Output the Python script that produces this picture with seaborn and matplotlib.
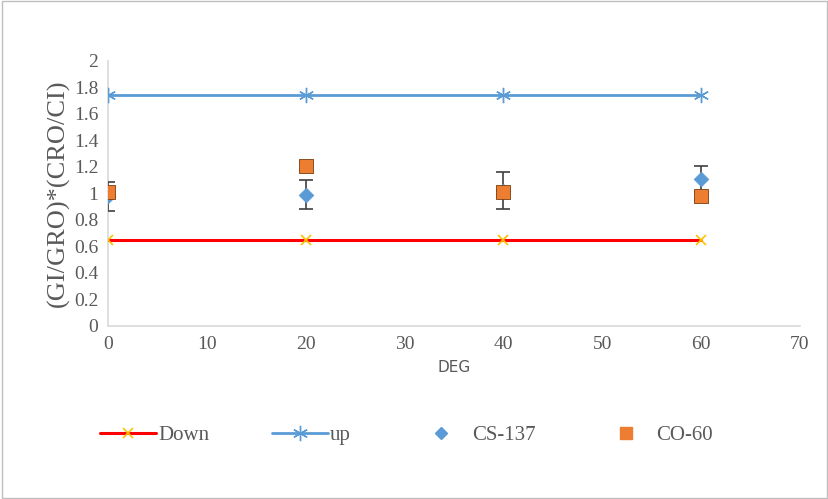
import matplotlib
matplotlib.use("Agg")
import matplotlib.pyplot as plt
from matplotlib.lines import Line2D
from matplotlib.patches import Rectangle
import seaborn as sns
import pandas as pd

# Angle (degrees) and measured ratios
deg = [0, 20, 40, 60]
down = [0.65, 0.65, 0.65, 0.65]
up = [1.74, 1.74, 1.74, 1.74]
cs137 = [0.98, 0.99, 1.02, 1.11]
cs137_err = [0.11, 0.11, 0.14, 0.10]
co60 = [1.01, 1.21, 1.01, 0.98]
co60_err = [0.02, 0.03, 0.02, 0.03]

xticks = [0, 10, 20, 30, 40, 50, 60, 70]
yticks = [0, 0.2, 0.4, 0.6, 0.8, 1, 1.2, 1.4, 1.6, 1.8, 2]
ytick_labels = ["0", "0.2", "0.4", "0.6", "0.8", "1", "1.2", "1.4", "1.6", "1.8", "2"]

sns.set_style("white")
plt.rcParams["font.family"] = ["Liberation Serif", "DejaVu Serif"]

RED = "#FF0000"
GOLD = "#FFC000"
BLUE = "#5B9BD5"
ORANGE = "#ED7D31"
TXT = "#595959"

fig = plt.figure(figsize=(8.29, 4.99), dpi=100)
ax = fig.add_axes([0.1303, 0.3467, 0.8347, 0.5311])

df = pd.DataFrame({"DEG": deg, "Down": down, "up": up,
                   "CS-137": cs137, "CO-60": co60})

star = (6, 2, 0)
sns.lineplot(data=df, x="DEG", y="Down", ax=ax, color=RED, lw=2.2,
             marker="x", markersize=7, markeredgecolor=GOLD,
             markeredgewidth=1.2, zorder=3, legend=False)
sns.lineplot(data=df, x="DEG", y="up", ax=ax, color=BLUE, lw=2.0,
             marker=star, markersize=11, markeredgecolor=BLUE,
             markeredgewidth=1.0, zorder=3, legend=False)

ax.errorbar(deg, cs137, yerr=cs137_err, fmt="none", ecolor="#404040",
            elinewidth=1.2, capsize=5, capthick=1.2, zorder=4)
sns.scatterplot(data=df, x="DEG", y="CS-137", ax=ax, marker="D", s=55,
                color=BLUE, edgecolor=BLUE, zorder=5, legend=False)
ax.errorbar(deg, co60, yerr=co60_err, fmt="none", ecolor="#404040",
            elinewidth=1.2, capsize=5, capthick=1.2, zorder=6)
sns.scatterplot(data=df, x="DEG", y="CO-60", ax=ax, marker="s", s=90,
                color=ORANGE, edgecolor="#7a3d10", linewidth=0.6,
                zorder=7, legend=False)

ax.set_xlim(0, 70)
ax.set_ylim(0, 2)
ax.set_xticks(xticks)
ax.set_yticks(yticks)
ax.set_yticklabels(ytick_labels)
ax.tick_params(axis="both", length=0, labelsize=14, labelcolor=TXT, pad=7)
for sp in ["top", "right"]:
    ax.spines[sp].set_visible(False)
for sp in ["left", "bottom"]:
    ax.spines[sp].set_color("#D9D9D9")
    ax.spines[sp].set_linewidth(1.2)

ax.set_xlabel("DEG", fontsize=11, color=TXT, family=["DejaVu Sans"], labelpad=5)
ax.set_ylabel("(GI/GRO)*(CRO/CI)", fontsize=19, color=TXT, labelpad=3)

handles = [
    Line2D([], [], color=RED, lw=2.2, marker="x", markersize=7,
           markeredgecolor=GOLD, markeredgewidth=1.2),
    Line2D([], [], color=BLUE, lw=2.0, marker=star, markersize=11,
           markeredgecolor=BLUE),
    Line2D([], [], color=BLUE, lw=0, marker="D", markersize=6.5),
    Line2D([], [], color=ORANGE, lw=0, marker="s", markersize=8),
]
fig.legend(handles, ["Down", "up", "CS-137", "CO-60"], loc="center",
           bbox_to_anchor=(0.49, 0.128), ncol=4, frameon=False,
           fontsize=15, labelcolor=TXT, handlelength=2.7, handletextpad=0.1,
           columnspacing=3.0)

fig.patches.append(Rectangle((0.002, 0.002), 0.996, 0.996, transform=fig.transFigure,
                             fill=False, edgecolor="#BFBFBF", lw=1.0))

fig.savefig("out.png", dpi=100)
